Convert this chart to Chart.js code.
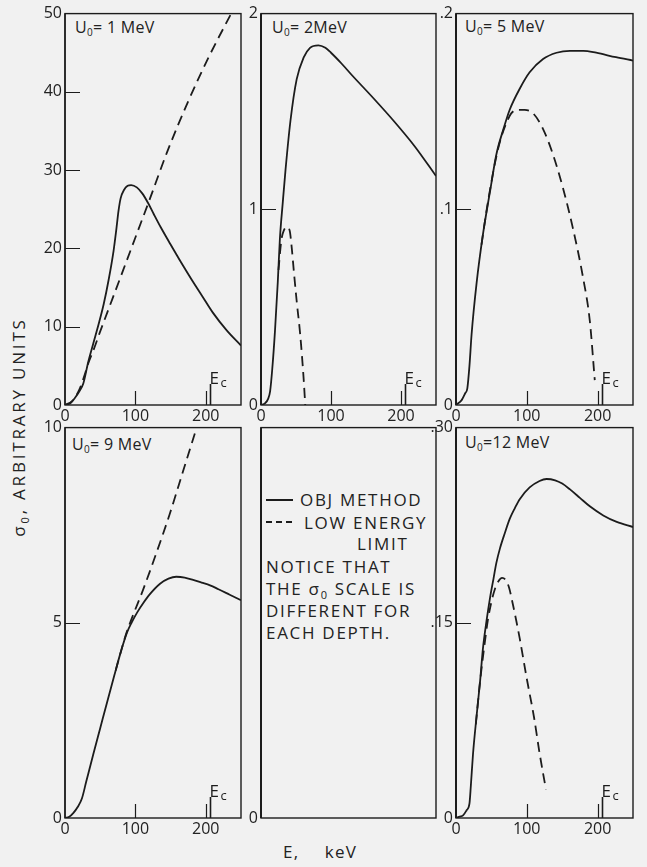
<!DOCTYPE html>
<html>
<head>
<meta charset="utf-8">
<script src="https://cdn.jsdelivr.net/npm/chart.js@4.4.0/dist/chart.umd.min.js"></script>
<style>
html,body{margin:0;padding:0;background:#f1f1f1;}
#wrap{position:relative;width:647px;height:867px;overflow:hidden;font-family:'Open Sans',sans-serif;color:#222;}
canvas{position:absolute;}
.t{position:absolute;white-space:nowrap;line-height:1;}
.ttl{font-size:16px;letter-spacing:0.3px;}
.ttl sub{font-size:10px;vertical-align:-3px;line-height:0;}
.leg{font-size:17px;letter-spacing:1.7px;}
.leg sub{font-size:11px;vertical-align:-4px;line-height:0;}
.ax{font-size:17px;letter-spacing:2.8px;}
.ax sub{font-size:11px;vertical-align:-4px;line-height:0;}
.xt{font-size:17px;letter-spacing:1.2px;word-spacing:20px;}
.ln{position:absolute;height:0;border-top:2px solid #1c1c1c;}
</style>
</head>
<body>
<div id="wrap">
  <div class="t ttl" style="left:75px;top:19px;">U<sub>0</sub>= 1 MeV</div>
  <div class="t ttl" style="left:272px;top:19px;">U<sub>0</sub>= 2MeV</div>
  <div class="t ttl" style="left:465px;top:18px;">U<sub>0</sub>= 5 MeV</div>
  <div class="t ttl" style="left:72px;top:436px;">U<sub>0</sub>= 9 MeV</div>
  <div class="t ttl" style="left:465px;top:434px;">U<sub>0</sub>=12 MeV</div>

  <div class="ln" style="left:266px;top:499px;width:27px;"></div>
  <div class="t leg" style="left:300px;top:491px;">OBJ METHOD</div>
  <div class="ln" style="left:266px;top:521px;width:6px;"></div>
  <div class="ln" style="left:276px;top:521px;width:6px;"></div>
  <div class="ln" style="left:286px;top:521px;width:6px;"></div>
  <div class="t leg" style="left:304px;top:514px;">LOW ENERGY</div>
  <div class="t leg" style="left:357px;top:535px;">LIMIT</div>
  <div class="t leg" style="left:266px;top:558px;">NOTICE THAT</div>
  <div class="t leg" style="left:266px;top:580px;">THE σ<sub>0</sub> SCALE IS</div>
  <div class="t leg" style="left:266px;top:602px;">DIFFERENT FOR</div>
  <div class="t leg" style="left:266px;top:624px;">EACH DEPTH.</div>

  <div class="t ax" style="left:18px;top:427px;transform:translate(-50%,-50%) rotate(-90deg);">σ<sub>0</sub>, ARBITRARY UNITS</div>
  <div class="t xt" style="left:283px;top:843px;">E, keV</div>
</div>
<script>
// ---------- data ----------
const X_TICKS = [0, 100, 200];
const X_TICK_LABELS = ['0', '100', '200'];
const X_INNER_TICKS = [100, 200];
const E_CRITICAL = 206;

// U0 = 1 MeV
const e1Obj = [0, 8, 14, 20, 26, 33, 40, 48, 55, 62, 69, 73, 76, 79, 84, 89, 94, 102, 110, 118, 126, 136, 150, 165, 180, 195, 210, 230, 250];
const s1Obj = [0, 0.25, 0.9, 1.7, 2.75, 5.5, 7.8, 10.4, 12.9, 16.0, 19.7, 22.5, 24.8, 26.4, 27.5, 28.0, 28.1, 27.8, 27.0, 25.8, 24.4, 22.7, 20.5, 18.2, 16.0, 13.9, 11.8, 9.5, 7.6];
const e1Low = [0, 10, 20, 27, 33, 40, 50, 65, 80, 100, 120, 145, 175, 205, 236];
const s1Low = [0, 0.5, 1.9, 3.6, 5.3, 6.9, 9.4, 13.0, 16.6, 21.4, 26.2, 32.3, 38.8, 44.6, 50];
const y1Ticks = [0, 10, 20, 30, 40, 50];
const y1Labels = ['0', '10', '20', '30', '40', '50'];

// U0 = 2 MeV
const e2Obj = [0, 6, 10, 13, 16, 20, 24, 27, 31, 35, 42, 51, 61, 70, 82, 92, 100, 115, 130, 160, 190, 220, 250];
const s2Obj = [0, 0.01, 0.03, 0.07, 0.18, 0.38, 0.63, 0.85, 1.03, 1.2, 1.45, 1.665, 1.776, 1.825, 1.838, 1.825, 1.80, 1.745, 1.685, 1.57, 1.45, 1.32, 1.17];
const e2Low = [25, 29, 33, 37, 41, 44, 47, 51, 56, 60.8, 63.2];
const s2Low = [0.69, 0.84, 0.895, 0.91, 0.89, 0.80, 0.68, 0.53, 0.36, 0.14, 0];
const y2Ticks = [0, 1, 2];
const y2Labels = ['0', '1', '2'];

// U0 = 5 MeV
const e3Obj = [0, 8, 13, 16, 19, 22, 29, 38, 48, 57, 67, 76, 90, 104, 123, 142, 161, 180, 198, 226, 250];
const s3Obj = [0, 0.0025, 0.006, 0.0085, 0.02, 0.036, 0.062, 0.087, 0.109, 0.128, 0.141, 0.151, 0.1616, 0.170, 0.1768, 0.180, 0.181, 0.181, 0.180, 0.1777, 0.176];
const e3Low = [36, 43, 50, 57, 64, 71, 78, 86, 97, 109, 123, 137, 151, 165, 179.5, 189, 196];
const s3Low = [0.082, 0.099, 0.114, 0.127, 0.137, 0.144, 0.149, 0.1508, 0.1508, 0.149, 0.141, 0.128, 0.111, 0.0905, 0.065, 0.043, 0.0127];
const y3Ticks = [0, 0.1, 0.2];
const y3Labels = ['0', '.1', '.2'];

// U0 = 9 MeV
const e4Obj = [0, 6, 12, 18, 24, 30, 40, 50, 60, 70, 80, 88, 95, 103, 111, 120, 135, 147, 158, 170, 182, 194, 206, 218, 234, 250];
const s4Obj = [0, 0.03, 0.13, 0.28, 0.5, 0.92, 1.62, 2.3, 2.98, 3.65, 4.3, 4.75, 5.02, 5.28, 5.5, 5.72, 6.0, 6.13, 6.18, 6.16, 6.1, 6.03, 5.96, 5.86, 5.72, 5.58];
const e4Low = [72, 80, 88, 95, 111, 130, 149, 168, 187];
const s4Low = [3.78, 4.3, 4.78, 5.12, 5.85, 6.8, 7.8, 8.9, 10.0];
const y4Ticks = [0, 5, 10];
const y4Labels = ['0', '5', '10'];

// legend panel (no curves)
const y5Ticks = [0];
const y5Labels = ['0'];

// U0 = 12 MeV
const e6Obj = [0, 5, 10, 15, 19, 21, 24, 29, 34, 38, 43, 48, 53, 57, 62, 69, 76, 83, 90, 104, 118, 128, 140, 150, 161, 175, 189, 208, 227, 250];
const s6Obj = [0, 0.001, 0.002, 0.006, 0.011, 0.025, 0.049, 0.078, 0.105, 0.13, 0.151, 0.169, 0.184, 0.196, 0.207, 0.219, 0.230, 0.238, 0.245, 0.254, 0.259, 0.2605, 0.2595, 0.257, 0.2525, 0.246, 0.2395, 0.2325, 0.2275, 0.2236];
const e6Low = [28, 34, 40, 45, 50, 55, 60, 65, 70, 75, 80, 85, 90, 100, 110, 118, 127];
const s6Low = [0.072, 0.105, 0.132, 0.152, 0.166, 0.176, 0.182, 0.1845, 0.183, 0.177, 0.165, 0.152, 0.138, 0.107, 0.078, 0.05, 0.022];
const y6Ticks = [0, 0.15, 0.3];
const y6Labels = ['0', '.15', '.30'];

// ---------- layout ----------
const INK = '#1c1c1c';
const COLS = [[65, 241], [261, 436], [456, 633]];
const ROWS = [[11, 405], [425, 818]];
const TICK_FONT = {family: "'Open Sans', sans-serif", size: 16};

const panelDecor = {
  id: 'panelDecor',
  afterDraw(chart, args, o) {
    const ctx = chart.ctx;
    const {left, right, top, bottom} = chart.chartArea;
    const xs = chart.scales.x, ys = chart.scales.y;
    ctx.save();
    ctx.strokeStyle = INK;
    ctx.fillStyle = INK;
    ctx.lineWidth = 1.4;
    ctx.strokeRect(left, top, right - left, bottom - top);
    ctx.lineWidth = o.leftWidth || 1.4;
    ctx.beginPath(); ctx.moveTo(left, top); ctx.lineTo(left, bottom); ctx.stroke();
    ctx.lineWidth = 1.2;
    ctx.beginPath();
    (o.yInner || []).forEach(v => {
      const y = Math.round(ys.getPixelForValue(v)) + 0.5;
      ctx.moveTo(left, y); ctx.lineTo(left + 15, y);
    });
    (o.xInner || []).forEach(v => {
      const x = Math.round(xs.getPixelForValue(v)) + 0.5;
      ctx.moveTo(x, bottom); ctx.lineTo(x, bottom - 14);
    });
    ctx.stroke();
    if (o.ec) {
      const x = Math.round(xs.getPixelForValue(o.ec)) + 0.5;
      ctx.lineWidth = 1.6;
      ctx.beginPath(); ctx.moveTo(x, bottom); ctx.lineTo(x, bottom - 21); ctx.stroke();
      ctx.textBaseline = 'alphabetic';
      ctx.textAlign = 'left';
      ctx.font = "17px 'Open Sans', sans-serif";
      ctx.fillText('E', x - 1, bottom - 21);
      const w = ctx.measureText('E').width;
      ctx.font = "13px 'Open Sans', sans-serif";
      ctx.fillText('c', x - 1 + w + 1.5, bottom - 18);
    }
    ctx.restore();
  }
};

const wrap = document.getElementById('wrap');

function makePanel(p) {
  const [L, R] = COLS[p.col];
  const [T, B] = ROWS[p.row];
  const w = R - L + 60, h = B - T + 40;
  const cv = document.createElement('canvas');
  cv.width = w; cv.height = h;
  cv.style.left = (L - 50) + 'px';
  cv.style.top = (T - 10) + 'px';
  cv.style.width = w + 'px';
  cv.style.height = h + 'px';
  wrap.appendChild(cv);
  const yMin = p.yTicks[0], yMax = p.yMax;
  new Chart(cv, {
    type: 'scatter',
    data: {
      datasets: p.series.map(s => ({
        data: s.e.map((e, i) => ({x: e, y: s.s[i]})),
        showLine: true,
        borderColor: INK,
        borderWidth: 1.8,
        borderDash: s.dashed ? [10, 6] : [],
        pointRadius: 0,
        cubicInterpolationMode: 'monotone',
        fill: false
      }))
    },
    options: {
      responsive: false,
      animation: false,
      devicePixelRatio: 1,
      events: [],
      layout: {padding: {left: 0, right: 10, top: 10, bottom: 0}},
      plugins: {
        legend: {display: false},
        tooltip: {enabled: false},
        panelDecor: {
          yInner: p.yTicks.filter(v => v > yMin && v < yMax),
          xInner: p.xTicks ? X_INNER_TICKS : [],
          ec: p.xTicks ? E_CRITICAL : null,
          leftWidth: p.col > 0 ? 2 : 1.4
        }
      },
      scales: {
        x: {
          type: 'linear', min: 0, max: 250,
          grid: {display: false, drawTicks: false},
          border: {display: false},
          ticks: {
            display: !!p.xTicks, padding: 2, font: TICK_FONT, color: '#222',
            maxRotation: 0, autoSkip: false,
            callback: (v, i) => X_TICK_LABELS[i]
          },
          afterBuildTicks: s => { s.ticks = X_TICKS.map(v => ({value: v})); },
          afterFit: s => { s.height = 30; }
        },
        y: {
          type: 'linear', min: yMin, max: yMax,
          grid: {display: false, drawTicks: false},
          border: {display: false},
          ticks: {
            padding: 3, font: TICK_FONT, color: '#222', autoSkip: false,
            callback: (v, i) => p.yLabels[i]
          },
          afterBuildTicks: s => { s.ticks = p.yTicks.map(v => ({value: v})); },
          afterFit: s => { s.width = 50; }
        }
      }
    },
    plugins: [panelDecor]
  });
}

const panels = [
  {col: 0, row: 0, yMax: 50, yTicks: y1Ticks, yLabels: y1Labels, xTicks: true,
   series: [{e: e1Obj, s: s1Obj}, {e: e1Low, s: s1Low, dashed: true}]},
  {col: 1, row: 0, yMax: 2, yTicks: y2Ticks, yLabels: y2Labels, xTicks: true,
   series: [{e: e2Obj, s: s2Obj}, {e: e2Low, s: s2Low, dashed: true}]},
  {col: 2, row: 0, yMax: 0.2, yTicks: y3Ticks, yLabels: y3Labels, xTicks: true,
   series: [{e: e3Obj, s: s3Obj}, {e: e3Low, s: s3Low, dashed: true}]},
  {col: 0, row: 1, yMax: 10, yTicks: y4Ticks, yLabels: y4Labels, xTicks: true,
   series: [{e: e4Obj, s: s4Obj}, {e: e4Low, s: s4Low, dashed: true}]},
  {col: 1, row: 1, yMax: 10, yTicks: y5Ticks, yLabels: y5Labels, xTicks: false,
   series: []},
  {col: 2, row: 1, yMax: 0.3, yTicks: y6Ticks, yLabels: y6Labels, xTicks: true,
   series: [{e: e6Obj, s: s6Obj}, {e: e6Low, s: s6Low, dashed: true}]}
];
panels.forEach(makePanel);
</script>
</body>
</html>
